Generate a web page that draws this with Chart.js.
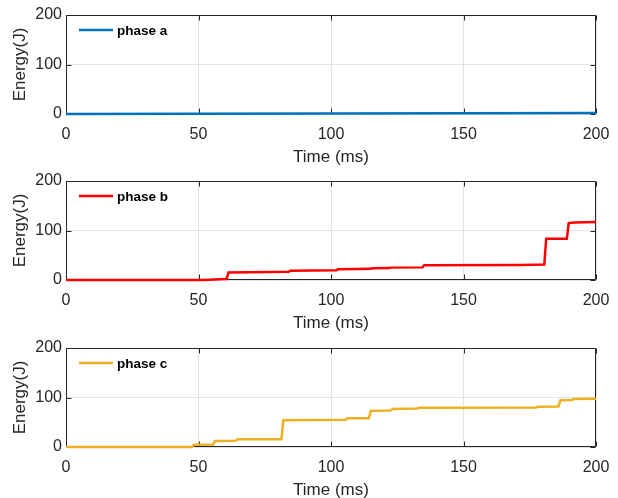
<!DOCTYPE html>
<html>
<head>
<meta charset="utf-8">
<script src="https://cdn.jsdelivr.net/npm/chart.js@4.4.1/dist/chart.umd.min.js"></script>
<style>
  html, body { margin: 0; padding: 0; background: #ffffff; }
  #wrap { position: relative; width: 618px; height: 498px; overflow: hidden; }
  .panel { position: absolute; left: 0; width: 618px; height: 166px; }
</style>
</head>
<body>
<div id="wrap">
  <div class="panel" style="top:0px"><canvas id="c1" width="618" height="166"></canvas></div>
  <div class="panel" style="top:166px"><canvas id="c2" width="618" height="166"></canvas></div>
  <div class="panel" style="top:333px"><canvas id="c3" width="618" height="166"></canvas></div>
</div>
<script>
// ---- data ----
const xTicks = [0, 50, 100, 150, 200];
const yTicks = [0, 100, 200];

const labelA = "phase a";
const timeA   = [0, 50, 100, 150, 200];
const energyA = [0, 0.5, 1, 1.5, 2];

const labelB = "phase b";
const timeB   = [0, 52, 60, 60.6, 61.3, 84, 84.6, 102, 102.6, 115, 115.5, 122, 122.5, 134.5, 135.2, 172, 180.5, 181.2, 189, 189.7, 192, 200];
const energyB = [0, 0, 2, 2, 15, 16.5, 18.5, 19.5, 21.5, 22.5, 23.5, 24, 25, 25.5, 30, 30.5, 31.5, 83.5, 83.5, 115, 116, 117];

const labelC = "phase c";
const timeC   = [0, 47.5, 48.3, 55.5, 56.2, 64, 64.8, 81.3, 82, 105.5, 106.2, 114.3, 115, 122.5, 123.2, 132.5, 133.2, 177.5, 178.2, 185.8, 186.6, 191, 191.6, 200];
const energyC = [0, 0, 4.5, 5, 12, 12.5, 15.5, 15.5, 54, 55, 58, 58, 73, 73.5, 77, 78, 79.5, 80, 81.5, 82, 94.5, 95, 97, 97.5];

const xTitle = "Time (ms)";
const yTitle = "Energy(J)";

// ---- styling ----
const FONT = "'Liberation Sans', Arial, Helvetica, sans-serif";
const AXIS_COLOR = "#262626";
const GRID_COLOR = "#e3e3e3";

const boxPlugin = {
  id: 'matlabBox',
  beforeDatasetsDraw(chart) {
    const ctx = chart.ctx;
    const a = chart.chartArea;
    const xs = chart.scales.x, ys = chart.scales.y;
    ctx.save();
    ctx.strokeStyle = AXIS_COLOR;
    ctx.lineWidth = 1;
    const L = Math.round(a.left) + 0.5, R = Math.round(a.right) - 0.5;
    const T = Math.round(a.top) + 0.5, B = Math.round(a.bottom) - 0.5;
    ctx.beginPath();
    ctx.rect(L, T, R - L, B - T);
    ctx.stroke();
    const tl = 5;
    ctx.beginPath();
    xTicks.forEach(v => {
      const px = Math.round(xs.getPixelForValue(v)) + 0.5;
      ctx.moveTo(px, B); ctx.lineTo(px, B - tl);
      ctx.moveTo(px, T); ctx.lineTo(px, T + tl);
    });
    yTicks.forEach(v => {
      const py = Math.round(ys.getPixelForValue(v)) + 0.5;
      ctx.moveTo(L, py); ctx.lineTo(L + tl, py);
      ctx.moveTo(R, py); ctx.lineTo(R - tl, py);
    });
    ctx.stroke();
    ctx.restore();
  },
  afterDraw(chart) {
    const ctx = chart.ctx;
    const a = chart.chartArea;
    ctx.save();
    const ds = chart.data.datasets[0];
    const ly = a.top + 15;
    ctx.strokeStyle = ds.borderColor;
    ctx.lineWidth = 2.5;
    ctx.beginPath();
    ctx.moveTo(a.left + 13, ly);
    ctx.lineTo(a.left + 47, ly);
    ctx.stroke();
    ctx.fillStyle = "#000000";
    ctx.font = "bold 13.5px " + FONT;
    ctx.textBaseline = 'middle';
    ctx.textAlign = 'left';
    ctx.fillText(ds.label, a.left + 51, ly + 1);
    ctx.restore();
  }
};

function makeChart(id, label, times, values, color) {
  const pts = times.map((t, i) => ({ x: t, y: values[i] }));
  return new Chart(document.getElementById(id), {
    type: 'line',
    data: { datasets: [{ label: label, data: pts, borderColor: color, backgroundColor: color,
      borderWidth: 2.5, pointRadius: 0, tension: 0, fill: false, clip: 4 }] },
    options: {
      responsive: false,
      animation: false,
      layout: { padding: { top: 15, right: 22, left: 0, bottom: 0 } },
      plugins: { legend: { display: false }, tooltip: { enabled: false } },
      scales: {
        x: {
          type: 'linear', min: 0, max: 200,
          afterBuildTicks(s) { s.ticks = xTicks.map(v => ({ value: v })); },
          afterFit(s) { s.height = 52; s.paddingLeft = 0; s.paddingRight = 0; },
          grid: { color: GRID_COLOR, drawTicks: false, lineWidth: 1 },
          border: { display: false },
          ticks: { color: AXIS_COLOR, font: { family: FONT, size: 16 }, padding: 11, maxRotation: 0 },
          title: { display: true, text: xTitle, color: AXIS_COLOR, font: { family: FONT, size: 17 }, padding: { top: 0, bottom: -2 } }
        },
        y: {
          type: 'linear', min: 0, max: 200,
          afterBuildTicks(s) { s.ticks = yTicks.map(v => ({ value: v })); },
          afterFit(s) { s.width = 66; },
          grid: { color: GRID_COLOR, drawTicks: false, lineWidth: 1 },
          border: { display: false },
          ticks: { color: AXIS_COLOR, font: { family: FONT, size: 16 }, padding: 4 },
          title: { display: true, text: yTitle, color: AXIS_COLOR, font: { family: FONT, size: 17 }, padding: { top: 10, bottom: 10 } }
        }
      }
    },
    plugins: [boxPlugin]
  });
}

makeChart('c1', labelA, timeA, energyA, '#0072BD');
makeChart('c2', labelB, timeB, energyB, '#FF0000');
makeChart('c3', labelC, timeC, energyC, '#EDB120');
</script>
</body>
</html>
